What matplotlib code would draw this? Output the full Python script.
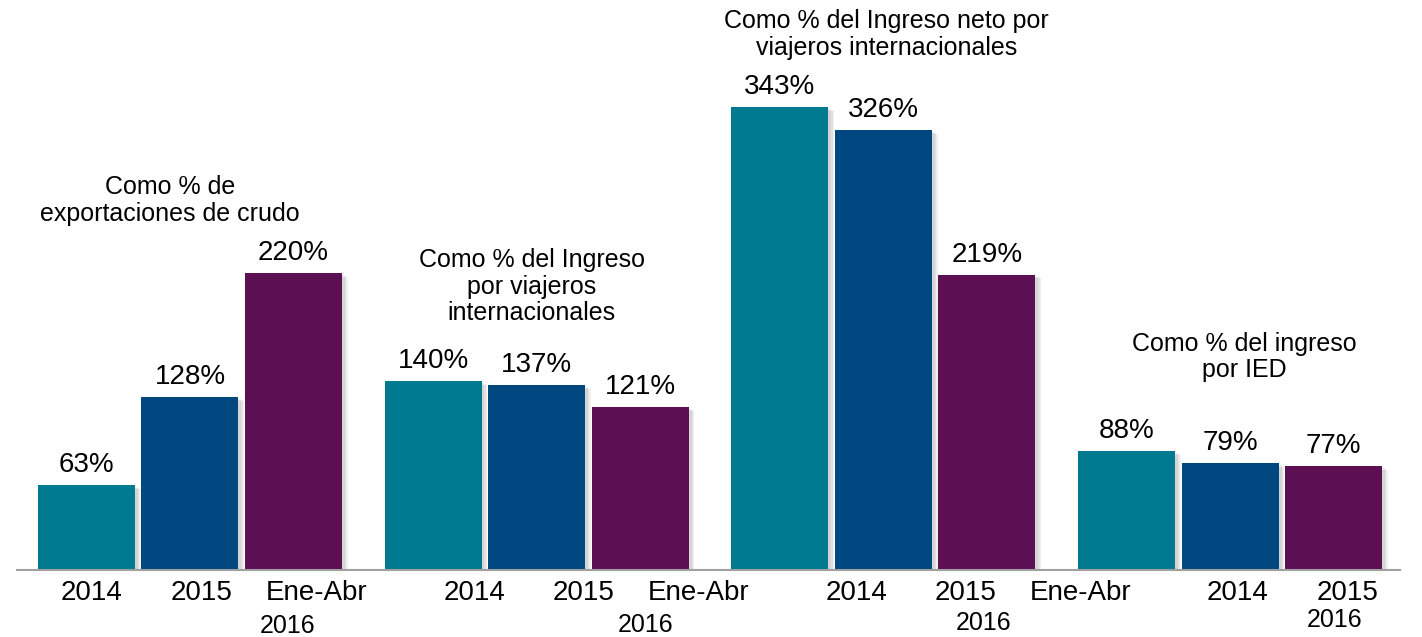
import matplotlib
matplotlib.use("Agg")
import numpy as np
from matplotlib import pyplot as plt
from matplotlib import patheffects as pe

plt.rcParams['font.family'] = ['Liberation Sans', 'DejaVu Sans']

# values (%)
crudo = [63, 128, 220]
viajeros = [140, 137, 121]
viajeros_neto = [343, 326, 219]
ied = [88, 79, 77]
groups = [crudo, viajeros, viajeros_neto, ied]

headings = ["Como % de\nexportaciones de crudo",
            "Como % del Ingreso\npor viajeros\ninternacionales",
            "Como % del Ingreso neto por\nviajeros internacionales",
            "Como % del ingreso\npor IED"]

# category labels as they sit (misaligned) under the bars
row1_labels = ["2014", "2015", "Ene-Abr"] * 3 + ["2014", "2015"]
row1_x = [0.05, 1.11, 2.22, 3.75, 4.80, 5.91, 7.44, 8.49, 9.60, 11.12, 12.18]
row2_labels = ["2016"] * 4
row2_x = [1.94, 5.40, 8.67, 12.06]
row2_y = [-41.5, -40.8, -39.3, -37.1]

head_x = [0.81, 4.30, 7.73, 11.19]
head_y = [274, 210, 397, 158]

colors = ["#007A91", "#00467F", "#5C1053"]
group_step = 3.35
bar_w = 0.937

fig = plt.figure(figsize=(14.22, 6.37), dpi=100)
ax = fig.add_axes([17 / 1422, 67 / 637, 1383 / 1422, 420 * 1.349 / 637])

# soft-ish drop shadow, stacked a few times
shadow = [pe.SimplePatchShadow(offset=(k, -k * 0.7), shadow_rgbFace="gray", alpha=0.12)
          for k in (4, 3, 2)] + [pe.Normal()]

for g, vals in enumerate(groups):
    xs = g * group_step + np.arange(3)
    bars = ax.bar(xs, vals, width=bar_w, color=colors, zorder=2)
    for b in bars:
        b.set_path_effects(shadow)
    for x, v in zip(xs, vals):
        ax.annotate(f"{v}%", (x, v), xytext=(0, 5), textcoords="offset points",
                    ha="center", va="bottom", fontsize=20)
    ax.text(head_x[g], head_y[g], headings[g], ha="center", va="center",
            fontsize=18, linespacing=1.12)

for x, lab in zip(row1_x, row1_labels):
    ax.text(x, -17, lab, ha="center", va="center", fontsize=20, clip_on=False)
for x, y, lab in zip(row2_x, row2_y, row2_labels):
    ax.text(x, y, lab, ha="center", va="center", fontsize=18, clip_on=False)

ax.set_xlim(-0.671, 12.69)
ax.set_ylim(0, 420)
for s in ["top", "left", "right"]:
    ax.spines[s].set_visible(False)
ax.spines["bottom"].set_color("#A0A0A0")
ax.spines["bottom"].set_linewidth(1.5)
ax.set_xticks([])
ax.set_yticks([])

fig.savefig("out.png", dpi=100)
